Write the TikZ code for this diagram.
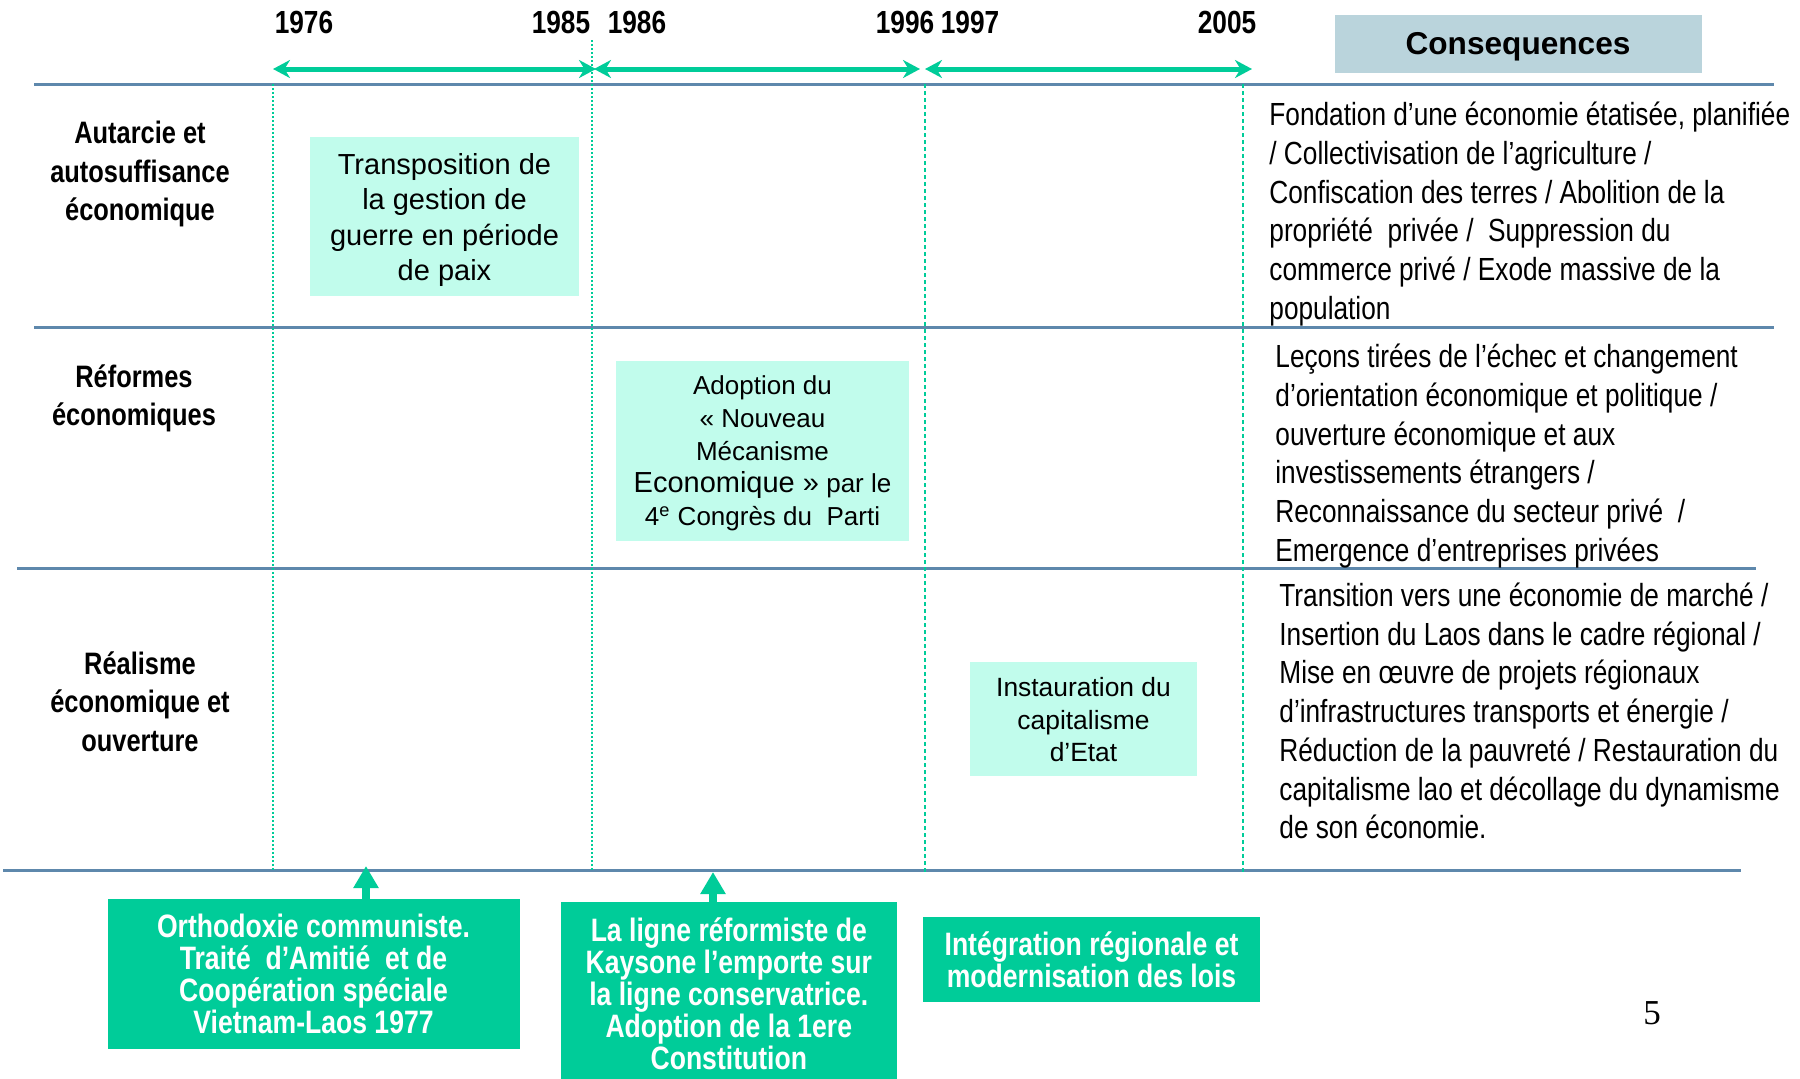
\documentclass[tikz,border=0pt]{standalone}
\usepackage{fontspec}
\setmainfont{Liberation Sans}
\newfontfamily\nar[FakeStretch=0.82]{Liberation Sans}
\newfontfamily\serf{Liberation Serif}
\usetikzlibrary{arrows.meta}
\definecolor{grn}{RGB}{0,204,153}
\definecolor{mintc}{RGB}{193,252,236}
\definecolor{hdrc}{RGB}{186,212,220}
\definecolor{hblue}{RGB}{94,136,172}
\newcommand{\fsz}[2]{\fontsize{#1}{#2}\selectfont}
\tikzset{
 yr/.style={font=\nar\bfseries\fsz{16}{19}, inner sep=0},
 rowlab/.style={font=\nar\bfseries\fsz{15.5}{19.25}, align=center, inner sep=0},
 cons/.style={font=\nar\fsz{16}{19.35}, align=left, inner sep=0, anchor=west},
 mint/.style={fill=mintc, inner sep=0},
 mtext/.style={align=center, inner sep=0},
 grnbox/.style={fill=grn, text=white, font=\nar\bfseries\fsz{16.2}{16}, align=center, inner sep=0},
 hline/.style={draw=hblue, line width=1.5pt},
 vdot/.style={draw=grn, line width=1pt, dash pattern=on 1pt off 1pt},
 vdotthin/.style={draw=grn, line width=0.6pt, dash pattern=on 2pt off 1.5pt},
 tarrow/.style={draw=grn, line width=2.5pt, {Stealth[length=8.5pt,width=9pt]}-{Stealth[length=8.5pt,width=9pt]}},
 uparrow/.style={draw=grn, line width=4pt, -{Triangle[length=11pt,width=12pt]}},
}
\begin{document}
\begin{tikzpicture}[x=0.5pt,y=-0.5pt]
\useasboundingbox[fill=white] (0,0) rectangle (1800,1078);

% horizontal rules
\draw[hline] (34,84) -- (1774,84);
\draw[hline] (34,327) -- (1774,327);
\draw[hline] (17,568) -- (1756,568);
\draw[hline] (3,870) -- (1741,870);

% vertical dotted lines
\draw[vdot] (273,84) -- (273,870);
\draw[vdot] (592,40) -- (592,870);
\draw[vdotthin] (925,84) -- (925,874);
\draw[vdotthin] (1243,84) -- (1243,874);

% years
\node[yr] (y1976) at (304,22.7) {1976};
\node[yr] (y1985) at (561,22.7) {1985};
\node[yr] (y1986) at (637,22.7) {1986};
\node[yr] (y1996) at (905,22.7) {1996};
\node[yr] (y1997) at (970,22.7) {1997};
\node[yr] (y2005) at (1227,22.7) {2005};

% period arrows
\coordinate (p1a) at (273,69);
\coordinate (p1b) at (596,69);
\coordinate (p2a) at (594,69);
\coordinate (p2b) at (920,69);
\coordinate (p3a) at (925,69);
\coordinate (p3b) at (1252,69);
\draw[tarrow] (p1a) -- (p1b);
\draw[tarrow] (p2a) -- (p2b);
\draw[tarrow] (p3a) -- (p3b);

% header
\node[fill=hdrc, minimum width=183.5pt, minimum height=29pt, inner sep=0, text depth=0pt,
      font=\bfseries\fsz{15.8}{19}] (hdr) at (1518,43.5) {Consequences};

% row labels
\node[rowlab] (r1) at (140,174) {Autarcie et\\autosuffisance\\économique};
\node[rowlab] (r2) at (134,398.3) {Réformes\\économiques};
\node[rowlab] (r3) at (140,701.5) {Réalisme\\économique et\\ouverture};

% mint boxes
\node[mint, minimum width=134.5pt, minimum height=79.5pt] (b1) at (444.5,216.5) {};
\node[mtext, font=\fsz{14.5}{17.65}] (b1t) at (444.5,220)
  {Transposition de\\la gestion de\\guerre en période\\de paix};
\node[mint, minimum width=146.5pt, minimum height=90pt] (b2) at (762.5,450.5) {};
\node[mtext, font=\fsz{13}{16.35}] (b2t) at (762.5,453.5)
  {Adoption du\\«~Nouveau\\Mécanisme\\{\fsz{14.5}{16.35}Economique~»} par le\\4\textsuperscript{e} Congrès du~ Parti};
\node[mint, minimum width=113.5pt, minimum height=57pt] (b3) at (1083.5,719) {};
\node[mtext, font=\fsz{13.2}{16.25}] (b3t) at (1083.5,720)
  {Instauration du\\capitalisme\\d’Etat};

% consequences
\node[cons] (c1) at (1269,214) {Fondation d’une économie étatisée, planifiée\\/ Collectivisation de l’agriculture /\\Confiscation des terres / Abolition de la\\propriété~ privée /~ Suppression du\\commerce privé / Exode massive de la\\population};
\node[cons] (c2) at (1275,456) {Leçons tirées de l’échec et changement\\d’orientation économique et politique /\\ouverture économique et aux\\investissements étrangers /\\Reconnaissance du secteur privé~ /\\Emergence d’entreprises privées};
\node[cons] (c3) at (1279,711) {Transition vers une économie de marché /\\Insertion du Laos dans le cadre régional /\\Mise en œuvre de projets régionaux\\d’infrastructures transports et énergie /\\Réduction de la pauvreté / Restauration du\\capitalisme lao et décollage du dynamisme\\de son économie.};

% bottom green boxes
\node[grnbox, minimum width=206pt, minimum height=75pt] (gA) at (313.5,974)
  {Orthodoxie communiste.\\Traité~ d’Amitié~ et de\\Coopération spéciale\\Vietnam-Laos 1977};
\node[grnbox, minimum width=168pt, minimum height=91.5pt] (gB) at (728.8,993.5)
  {La ligne réformiste de\\Kaysone l’emporte sur\\la ligne conservatrice.\\Adoption de la 1ere\\Constitution};
\node[grnbox, minimum width=168.5pt, minimum height=42.5pt] (gC) at (1091.5,959.3)
  {Intégration régionale et\\modernisation des lois};

\coordinate (tipA) at (366,866);
\coordinate (tipB) at (713,872);
\draw[uparrow] (gA.north -| tipA) -- (tipA);
\draw[uparrow] (gB.north -| tipB) -- (tipB);

% page number
\node[font=\serf\fsz{17.5}{20}, inner sep=0] (pg) at (1652,1013) {5};
\end{tikzpicture}
\end{document}
